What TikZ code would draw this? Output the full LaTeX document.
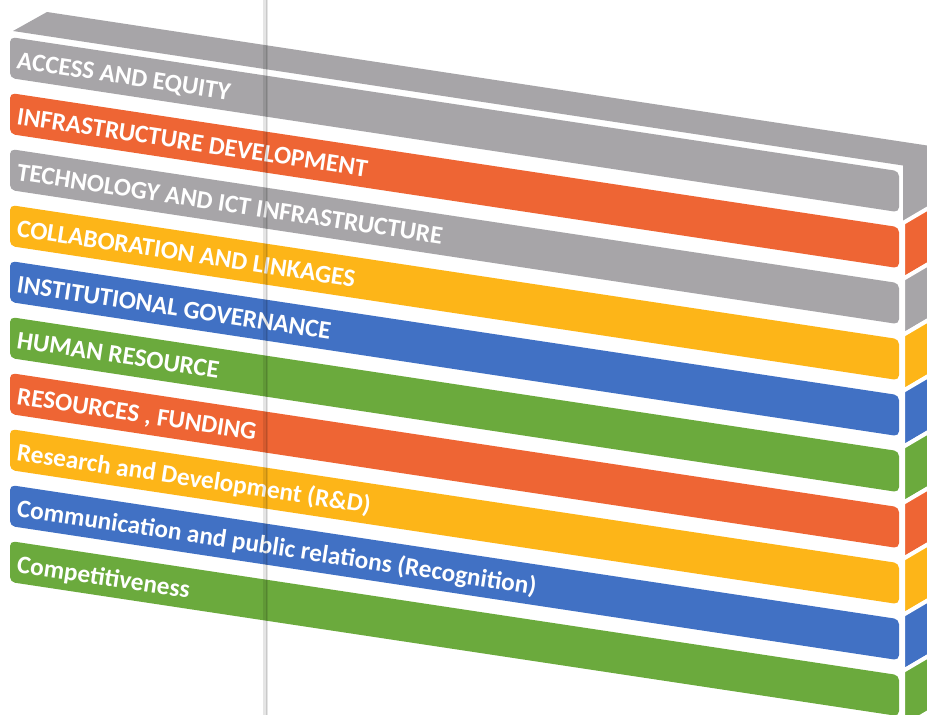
\documentclass[tikz,border=0pt]{standalone}
\usepackage{fontspec}
\setmainfont{Carlito}
\definecolor{cgray}{HTML}{A7A5A8}
\definecolor{corange}{HTML}{EE6534}
\definecolor{cyellow}{HTML}{FDB518}
\definecolor{cblue}{HTML}{4171C4}
\definecolor{cgreen}{HTML}{6BAA3D}
\tikzset{
  lbl/.style={anchor=base west, rotate=-8.6, text=white, inner sep=0pt,
    font=\bfseries\fontsize{25.3}{25.3}\selectfont},
  sideface/.style={draw=white, line width=4pt, line join=round},
}
\newcommand{\frontbar}[2]{%
  \fill[#2, rounded corners=5pt] (10,#1) -- (899,#1+134.2) -- (899,#1+175.2) -- (10,#1+41) -- cycle;}
\newcommand{\sidebar}[2]{%
  \filldraw[#2, sideface] (903,#1+130) -- (937,#1+110) -- (937,#1+166) -- (903,#1+186) -- cycle;}
\begin{document}
\begin{tikzpicture}[x=1pt,y=-1pt]
\useasboundingbox (0,0) rectangle (927,715);
\clip (0,0) rectangle (927,715);
\fill[white] (0,0) rectangle (927,715);
% top face and side face of the first bar
\fill[cgray] (13,31) -- (903,165.5) -- (903,223) -- (937,203) -- (937,147) -- (47,12) -- cycle;
% side faces
\sidebar{93}{corange}
\sidebar{149}{cgray}
\sidebar{205}{cyellow}
\sidebar{261}{cblue}
\sidebar{317}{cgreen}
\sidebar{373}{corange}
\sidebar{429}{cyellow}
\sidebar{485}{cblue}
\sidebar{541}{cgreen}
% front faces
\frontbar{37}{cgray}
\frontbar{93}{corange}
\frontbar{149}{cgray}
\frontbar{205}{cyellow}
\frontbar{261}{cblue}
\frontbar{317}{cgreen}
\frontbar{373}{corange}
\frontbar{429}{cyellow}
\frontbar{485}{cblue}
\frontbar{541}{cgreen}
% labels
\node[lbl] (l1) at (16,68) {ACCESS AND EQUITY};
\node[lbl] (l2) at (16,124) {INFRASTRUCTURE DEVELOPMENT};
\node[lbl] (l3) at (16,180) {TECHNOLOGY AND ICT INFRASTRUCTURE};
\node[lbl] (l4) at (16,236) {COLLABORATION AND LINKAGES};
\node[lbl] (l5) at (16,292) {INSTITUTIONAL GOVERNANCE};
\node[lbl] (l6) at (16,348) {HUMAN RESOURCE};
\node[lbl] (l7) at (16,404) {RESOURCES , FUNDING};
\node[lbl] (l8) at (16,460) {Research and Development (R\&D)};
\node[lbl] (l9) at (16,516) {Communication and public relations (Recognition)};
\node[lbl] (l10) at (16,572) {Competitiveness};
% scan fold line
\draw[black, opacity=0.10, line width=5pt] (265,0) -- (265,715);
\draw[black, opacity=0.12, line width=1pt] (266,0) -- (266,715);
\end{tikzpicture}
\end{document}
